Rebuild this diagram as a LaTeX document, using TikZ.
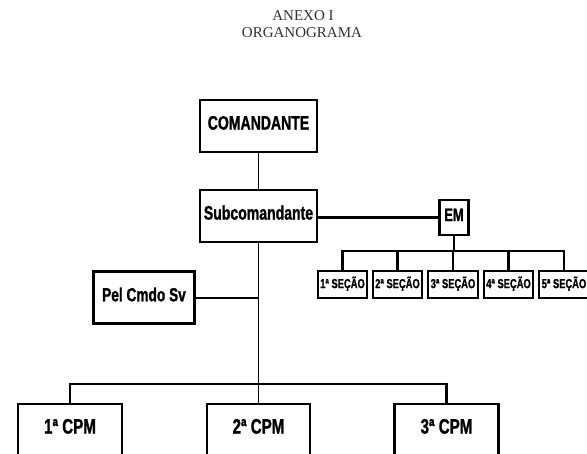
\documentclass[tikz,border=0pt]{standalone}
\usepackage{fontspec}
\setmainfont{Liberation Serif}
\newfontfamily\nar[FakeStretch=0.72,FakeBold=1.2]{Liberation Sans}
\tikzset{
  box/.style={draw, line width=2.4pt, inner sep=0pt, align=center,
    text height=0.72em, text depth=0pt},
  big/.style={font=\nar\bfseries\fontsize{19.5}{20}\selectfont},
  small/.style={font=\nar\bfseries\fontsize{13}{13}\selectfont},
  title/.style={font=\fontsize{15}{15}\selectfont, text=black!80, inner sep=0pt,
    text height=0.66em, text depth=0pt},
  conn/.style={line width=1.5pt},
  thick conn/.style={line width=2.3pt}
}
\begin{document}
\begin{tikzpicture}[x=1pt,y=-1pt]
\useasboundingbox (0,0) rectangle (587,454);
\begin{scope}
\clip (0,0) rectangle (587,454);
\fill[white] (0,0) rectangle (587,454);
\node[title] (t1) at (303,17.2) {ANEXO I};
\node[title] (t2) at (302,33.8) {ORGANOGRAMA};

\node[box,big,minimum width=117,minimum height=52] (com) at (258.5,126) {COMANDANTE};
\node[box,big,minimum width=117,minimum height=52] (sub) at (258.5,216) {Subcomandante};
\node[box,font=\nar\bfseries\fontsize{18}{18}\selectfont,minimum width=29,minimum height=35] (em) at (454,217.5) {EM};
\node[box,font=\nar\bfseries\fontsize{19}{19}\selectfont,minimum width=101,minimum height=52] (pel) at (144,297.7) {Pel Cmdo Sv};

\foreach \i/\x in {1/342.5,2/397.5,3/453,4/508.5,5/564}{
  \node[box,small,minimum width=49.5,minimum height=27.5] (s\i) at (\x,284.5) {\i ª SEÇÃO};
}
\node[box,font=\nar\bfseries\fontsize{21}{21}\selectfont,minimum width=104,minimum height=52] (c1) at (70,430) {1ª CPM};
\node[box,font=\nar\bfseries\fontsize{21}{21}\selectfont,minimum width=103,minimum height=52] (c2) at (258.5,430) {2ª CPM};
\node[box,font=\nar\bfseries\fontsize{21}{21}\selectfont,minimum width=104,minimum height=52] (c3) at (446.5,430) {3ª CPM};

\coordinate (sbar) at (0,251);
\coordinate (cbar) at (0,384);

\draw[conn] (com.south) -- (sub.north);
\draw[thick conn] (em.west -| sub.east) -- (em.west);
\draw[thick conn] (em.south) -- (em.south |- sbar);
\draw[thick conn] (s1.north) |- (sbar -| s5.north) -- (s5.north);
\foreach \i in {2,3,4}{
  \draw[thick conn] (s\i.north) -- (s\i.north |- sbar);
}
\draw[conn] (sub.south) -- (c2.north);
\draw[thick conn] (pel.east) -- (pel.east -| sub.south);
\draw[thick conn] (c1.north) |- (cbar -| c3.north) -- (c3.north);
\end{scope}
\end{tikzpicture}
\end{document}
